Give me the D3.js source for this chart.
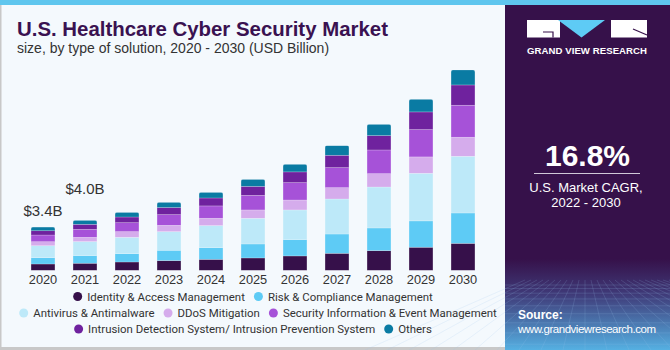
<!DOCTYPE html>
<html lang="en">
  <head>
    <meta charset="UTF-8" />
    <title>U.S. Healthcare Cyber Security Market</title>
    <script src="https://d3js.org/d3.v7.min.js"></script>
    <style>
      body {
        margin: 0;
        font-family: "Liberation Sans", Arial, sans-serif;
      }
      .axis .domain,
      .axis line {
        display: none;
      }
      .axis text {
        font-size: 12.8px;
        fill: #333;
        font-family: "Liberation Sans", Arial, sans-serif;
      }
      .legend text {
        font-family: Roboto, "Liberation Sans", sans-serif;
      }
    </style>
  </head>
  <body>
    <svg width="670" height="350" id="chart"></svg>

    <script>
      // data (USD billion)
      const years = ["2020", "2021", "2022", "2023", "2024", "2025", "2026", "2027", "2028", "2029", "2030"];
      const segments = [
        "Identity & Access Management",
        "Risk & Compliance Management",
        "Antivirus & Antimalware",
        "DDoS Mitigation",
        "Security Information & Event Management",
        "Intrusion Detection System/ Intrusion Prevention System",
        "Others",
      ];
      const identity = [0.5, 0.56, 0.66, 0.77, 0.87, 0.98, 1.14, 1.35, 1.56, 1.83, 2.14];
      const risk = [0.5, 0.61, 0.66, 0.82, 0.93, 1.11, 1.3, 1.53, 1.8, 2.09, 2.41];
      const antivirus = [0.95, 1.11, 1.3, 1.48, 1.75, 2.04, 2.35, 2.78, 3.25, 3.78, 4.5];
      const ddos = [0.32, 0.34, 0.45, 0.5, 0.58, 0.66, 0.79, 0.9, 1.06, 1.3, 1.51];
      const siem = [0.53, 0.63, 0.71, 0.85, 0.98, 1.16, 1.38, 1.59, 1.88, 2.17, 2.54];
      const idsips = [0.34, 0.4, 0.45, 0.56, 0.63, 0.71, 0.85, 0.98, 1.14, 1.4, 1.61];
      const others = [0.29, 0.32, 0.37, 0.42, 0.45, 0.56, 0.61, 0.77, 0.9, 1.01, 1.19];
      const totalLabels = [
        { year: "2020", text: "$3.4B" },
        { year: "2021", text: "$4.0B" },
      ];
      const cagr = "16.8%";

      const colors = ["#36104a", "#5ecbf5", "#bde9f9", "#d5acec", "#a652d8", "#6f229e", "#0a7ba3"];

      const svg = d3.select("#chart");
      const width = +svg.attr("width");
      const height = +svg.attr("height");
      const panelX = 505;

      // backgrounds
      svg.append("rect").attr("width", width).attr("height", height).attr("fill", "#f4f9fd");
      svg.append("rect").attr("x", 0).attr("y", 0).attr("width", 1.5).attr("height", height).attr("fill", "#c8c8c8");
      svg.append("rect").attr("x", 0).attr("y", height - 3).attr("width", width).attr("height", 3).attr("fill", "#c8c8c8");

      // right panel
      const defs = svg.append("defs");
      const grad = defs.append("linearGradient").attr("id", "panelGrad").attr("x1", 0).attr("y1", 0).attr("x2", 0).attr("y2", 1);
      grad.append("stop").attr("offset", "0%").attr("stop-color", "#36114a");
      grad.append("stop").attr("offset", "74%").attr("stop-color", "#36114a");
      grad.append("stop").attr("offset", "84%").attr("stop-color", "#3f3a78");
      grad.append("stop").attr("offset", "100%").attr("stop-color", "#55b0e2");
      svg.append("rect").attr("x", panelX).attr("y", 0).attr("width", width - panelX).attr("height", height).attr("fill", "url(#panelGrad)");

      // faint grid at the bottom of the panel
      const gridG = svg.append("g").attr("stroke", "#9fc4ee").attr("stroke-opacity", 0.25).attr("stroke-width", 0.7);
      d3.range(0, 12).forEach((i) => {
        const y = 285 + i * i * 0.55 + i * 3;
        gridG.append("line").attr("x1", panelX).attr("x2", width).attr("y1", y).attr("y2", y);
      });
      d3.range(-10, 20).forEach((i) => {
        const xTop = panelX + 80 + i * 6;
        const xBot = panelX + 80 + i * 22;
        gridG.append("line").attr("x1", xTop).attr("y1", 280).attr("x2", xBot).attr("y2", height);
      });

      // top stripe
      svg.append("rect").attr("x", 0).attr("y", 0).attr("width", width).attr("height", 5).attr("fill", "#5fc6ee");

      // logo
      const logo = svg.append("g");
      logo.append("rect").attr("x", 527).attr("y", 20).attr("width", 33).attr("height", 17.5).attr("fill", "#fff");
      logo.append("path").attr("d", "M543,32 L553,32 L553,37.5").attr("fill", "none").attr("stroke", "#36114a").attr("stroke-width", 1.2);
      logo.append("path").attr("d", "M558,20 L605,20 L581.5,37.5 Z").attr("fill", "#5ecbf5");
      logo.append("rect").attr("x", 611).attr("y", 20).attr("width", 36).attr("height", 17.5).attr("fill", "#fff");
      logo.append("path").attr("d", "M633,29 L647,35").attr("stroke", "#36114a").attr("stroke-width", 1.2);
      svg.append("text").attr("x", 527).attr("y", 54).attr("fill", "#fff")
        .attr("font-size", 9.6).attr("font-weight", "bold").attr("textLength", 120).text("GRAND VIEW RESEARCH");

      svg.append("text").attr("x", 587.5).attr("y", 166).attr("text-anchor", "middle").attr("fill", "#fff")
        .attr("font-size", 30).attr("font-weight", "bold").text(cagr);
      svg.append("line").attr("x1", 534).attr("x2", 640).attr("y1", 173.5).attr("y2", 173.5).attr("stroke", "#d0c8d8").attr("stroke-width", 1);
      svg.append("text").attr("x", 586).attr("y", 192).attr("text-anchor", "middle").attr("fill", "#fff").attr("font-size", 13).text("U.S. Market CAGR,");
      svg.append("text").attr("x", 586).attr("y", 207).attr("text-anchor", "middle").attr("fill", "#fff").attr("font-size", 13).text("2022 - 2030");
      svg.append("text").attr("x", 518).attr("y", 319).attr("fill", "#fff").attr("font-size", 12).attr("font-weight", "bold").text("Source:");
      svg.append("text").attr("x", 518).attr("y", 333).attr("fill", "#fff").attr("font-size", 11.5)
        .attr("textLength", 138).text("www.grandviewresearch.com");

      // titles
      svg.append("text").attr("x", 17).attr("y", 36).attr("fill", "#3a1251").attr("font-size", 21)
        .attr("font-weight", "bold").attr("textLength", 371).attr("lengthAdjust", "spacingAndGlyphs")
        .text("U.S. Healthcare Cyber Security Market");
      svg.append("text").attr("x", 17).attr("y", 53).attr("fill", "#333").attr("font-size", 14)
        .text("size, by type of solution, 2020 - 2030 (USD Billion)");

      // scales
      const x = d3.scaleBand().domain(years).range([22, 484]).paddingInner(0.43).paddingOuter(0.215);
      const y = d3.scaleLinear().domain([0, 16]).range([270.3, 270.3 - 16 * 12.6]);
      const color = d3.scaleOrdinal().domain(segments).range(colors);

      const table = years.map((yr, i) => ({
        year: yr,
        [segments[0]]: identity[i],
        [segments[1]]: risk[i],
        [segments[2]]: antivirus[i],
        [segments[3]]: ddos[i],
        [segments[4]]: siem[i],
        [segments[5]]: idsips[i],
        [segments[6]]: others[i],
      }));
      const stacked = d3.stack().keys(segments)(table);

      // clip each bar so the top corners are rounded
      years.forEach((yr, i) => {
        const total = d3.sum(segments, (s) => table[i][s]);
        defs.append("clipPath").attr("id", "clip" + yr)
          .append("rect")
          .attr("x", x(yr)).attr("y", y(total))
          .attr("width", x.bandwidth()).attr("height", y(0) - y(total) + 4)
          .attr("rx", 2);
      });

      const bars = svg.append("g");
      stacked.forEach((layer) => {
        bars.append("g")
          .selectAll("rect")
          .data(layer)
          .join("rect")
          .attr("clip-path", (d) => `url(#clip${d.data.year})`)
          .attr("x", (d) => x(d.data.year))
          .attr("y", (d) => y(d[1]))
          .attr("width", x.bandwidth())
          .attr("height", (d) => y(d[0]) - y(d[1]))
          .attr("fill", color(layer.key))
          .attr("stroke", "rgba(255,255,255,0.35)")
          .attr("stroke-width", 0.6);
      });

      // x axis
      svg.append("g").attr("class", "axis").attr("transform", "translate(0,275)")
        .call(d3.axisBottom(x).tickSize(0).tickPadding(0));

      // total labels
      const labelOffset = { "2020": 11, "2021": 26 };
      totalLabels.forEach((l) => {
        const i = years.indexOf(l.year);
        const total = d3.sum(segments, (s) => table[i][s]);
        svg.append("text")
          .attr("x", x(l.year) + x.bandwidth() / 2)
          .attr("y", y(total) - labelOffset[l.year])
          .attr("text-anchor", "middle")
          .attr("fill", "#333")
          .attr("font-size", 15)
          .text(l.text);
      });

      // legend, three centred rows; font sized so the middle row spans ~478px
      const rows = [[0, 1], [2, 3, 4], [5, 6]];
      const rowY = [296.5, 313, 329];
      const dotR = 4.5;
      const textGap = 14;
      const itemGap = 9;
      const legend = svg.append("g").attr("class", "legend");
      const probe = legend.append("text").attr("font-size", 13)
        .text(rows[1].map((k) => segments[k]).join(""));
      const legendFont = Math.min(13, (13 * (478 - 3 * textGap - 2 * itemGap)) / probe.node().getComputedTextLength());
      probe.remove();
      rows.forEach((row, r) => {
        const g = legend.append("g");
        let cx = 0;
        row.forEach((k) => {
          g.append("circle").attr("cx", cx + dotR).attr("cy", 0).attr("r", dotR).attr("fill", colors[k]);
          const t = g.append("text").attr("x", cx + textGap).attr("y", 0).attr("dy", "0.35em")
            .attr("font-size", legendFont).attr("fill", "#333").text(segments[k]);
          cx += textGap + t.node().getComputedTextLength() + itemGap;
        });
        const w = cx - itemGap;
        const centre = r === 1 ? 258 : 253;
        g.attr("transform", `translate(${centre - w / 2},${rowY[r]})`);
      });
    </script>
  </body>
</html>
